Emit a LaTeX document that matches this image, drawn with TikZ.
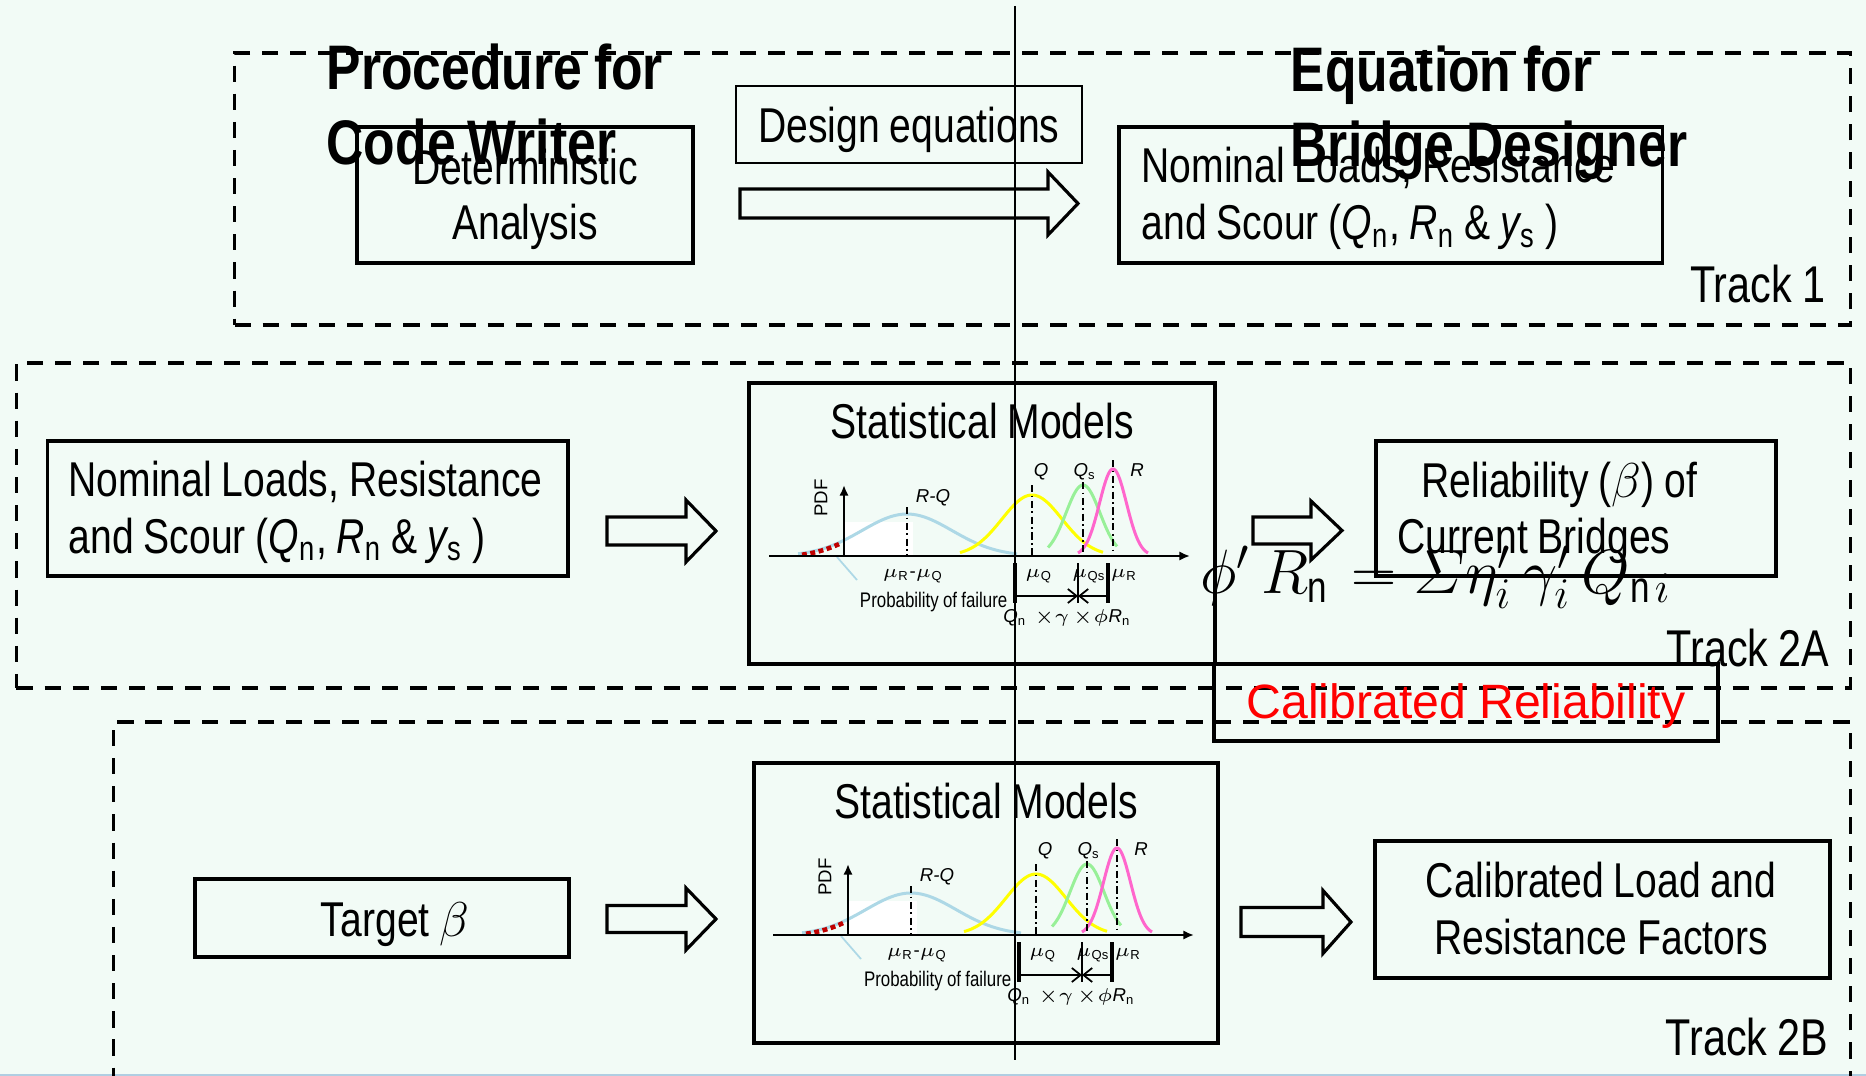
\RequirePackage{fix-cm}
\documentclass[tikz,border=0pt]{standalone}
\usepackage{amsmath}
\usepackage{fontspec}
\setmainfont{Liberation Sans}[FakeStretch=0.8, WordSpace=0.9]
\newfontfamily\widefont{Liberation Sans}
\newfontfamily\titlefont{Liberation Sans}[FakeStretch=0.82, WordSpace=0.85]
\usetikzlibrary{arrows.meta}
\definecolor{bg}{RGB}{242,251,246}
\definecolor{curveblue}{RGB}{173,216,230}
\definecolor{curveyellow}{RGB}{255,255,0}
\definecolor{curvegreen}{RGB}{152,240,152}
\definecolor{curvepink}{RGB}{255,102,204}
\definecolor{faildark}{RGB}{192,0,0}
\definecolor{edgeblue}{RGB}{176,206,226}
\newcommand{\mainsize}{\fontsize{13.9}{15.9}\selectfont}
\newcommand{\titlesize}{\titlefont\bfseries\fontsize{17.9}{21}\selectfont}
\newcommand{\tracksize}{\fontsize{14.7}{16}\selectfont}
\newcommand{\glabelsize}{\widefont\fontsize{5.3}{6}\selectfont}
\newcommand{\blockarrow}[6]{%
  \draw[blockarr] ({#1},{#4-#5}) -- ({#2},{#4-#5}) -- ({#2},{#4-#6}) -- ({#3},{#4})
    -- ({#2},{#4+#6}) -- ({#2},{#4+#5}) -- ({#1},{#4+#5}) -- cycle;}
\newcommand{\pdfgraph}[3]{%
\begin{scope}[shift={(#1,#2)}]
  \fill[white] (0,-34) rectangle (69,0);
  \draw[curveblue, curveline, domain=-46:173] plot (\x, {-42*exp(-0.5*((\x-63)/45)^2)});
  \draw[faildark, line width=1.3pt, dash pattern=on 1.4pt off 1pt, domain=-42:-4, samples=15]
     plot (\x, {1.5-42*exp(-0.5*((\x-63)/45)^2)});
  \draw[curveblue, line width=0.5pt] (-7,1) -- (13,24);
  \draw[ddot] (63,-49) -- (63,0);
  \draw[curveyellow, curveline, domain=116:259] plot (\x, {-61*exp(-0.5*((\x-188)/30)^2)});
  \draw[curvegreen, curveline, domain=204:273] plot (\x, {-71*exp(-0.5*((\x-239)/17)^2)});
  \draw[curvepink, curveline, domain=234:304] plot (\x, {-87*exp(-0.5*((\x-269)/13.5)^2)});
  \draw[ddot] (188,-71) -- (188,0);
  \draw[ddot] (239,-74) -- (239,0);
  \draw[ddot] (269,-96) -- (269,0);
  \draw[line width=0.6pt, -{Latex[length=3pt,width=2.6pt]}] (-75,0) -- (346,0);
  \draw[line width=0.6pt, -{Latex[length=3pt,width=2.6pt]}] (0,0) -- (0,-71);
  \node[glabel, rotate=90] (#3pdf) at (-23,-58) {PDF};
  \node[glabel, anchor=base] (#3rq) at (89,-54) {\itshape R-Q};
  \node[glabel, anchor=base] (#3q) at (197,-80) {\itshape Q};
  \node[glabel, anchor=base] (#3qs) at (241,-80) {{\itshape Q}\textsubscript{s}};
  \node[glabel, anchor=base] (#3r) at (293,-80) {\itshape R};
  \node[glabel, anchor=base] (#3mrq) at (69,21) {$\mu$\textsubscript{R}-$\mu$\textsubscript{Q}};
  \node[glabel, anchor=base] (#3mq) at (195,21) {$\mu$\textsubscript{Q}};
  \node[glabel, anchor=base] (#3mqs) at (245,21) {$\mu$\textsubscript{Qs}};
  \node[glabel, anchor=base] (#3mr) at (280,21) {$\mu$\textsubscript{R}};
  \node[inner sep=0, anchor=base east, font=\fontsize{6}{7}\selectfont] (#3pf) at (164,51) {Probability of failure};
  \draw[line width=0.9pt] (171,7) -- (171,47);
  \draw[line width=0.9pt] (264,7) -- (264,47);
  \draw[line width=0.4pt] (234,7) -- (234,47);
  \draw[line width=0.5pt, -{Straight Barb[length=2.5pt,width=4pt]}] (171,40) -- (234,40);
  \draw[line width=0.5pt, -{Straight Barb[length=2.5pt,width=4pt]}] (264,40) -- (234,40);
  \node[glabel, anchor=base] (#3qn) at (171,66) {{\itshape Q}\textsubscript{n}};
  \node[glabel, anchor=base] (#3g) at (208,66) {$\times\gamma$};
  \node[glabel, anchor=base] (#3pr) at (258,66) {$\times\phi${\itshape R}\textsubscript{n}};
\end{scope}}
\newcommand{\scourline}{and Scour ({\itshape Q}\textsubscript{n}, {\itshape R}\textsubscript{n} \& {\itshape y}\textsubscript{s} )}
\begin{document}
\begin{tikzpicture}[x=0.01cm, y=-0.01cm,
  trackbox/.style={draw, line width=1pt, dash pattern=on 4.6pt off 3.4pt, inner sep=0pt},
  box/.style={draw, line width=0.95pt, inner sep=0pt},
  thinbox/.style={draw, line width=0.55pt, inner sep=0pt},
  txt/.style={inner sep=0pt, font=\mainsize},
  titletext/.style={inner sep=0pt, font=\titlesize},
  tracklabel/.style={inner sep=0pt, font=\tracksize},
  blockarr/.style={draw, line width=0.9pt, line join=miter},
  curveline/.style={line width=0.85pt, samples=60, smooth},
  ddot/.style={line width=0.55pt, dash pattern=on 2pt off 1pt on 0.5pt off 1pt},
  glabel/.style={inner sep=0pt, font=\glabelsize}]
\clip (0,0) rectangle (1866,1076);
\fill[bg] (0,0) rectangle (1866,1076);
\coordinate (edgeL) at (0,1075);
\coordinate (edgeR) at (1866,1075);
\draw[edgeblue, line width=0.6pt] (edgeL) -- (edgeR);

% track frames
\node[trackbox, minimum width=16.15cm, minimum height=2.72cm] (track1) at (1042.5,189) {};
\node[trackbox, minimum width=18.33cm, minimum height=3.25cm] (track2a) at (933.5,525.5) {};
\node[trackbox, minimum width=17.36cm, minimum height=4.0cm] (track2b) at (982,922) {};

% Track 1
\node[box, minimum width=3.36cm, minimum height=1.36cm] (det) at (525,195) {};
\node[txt, anchor=base] (detA) at (525,185) {Deterministic};
\node[txt, anchor=base] (detB) at (525,240) {Analysis};
\node[thinbox, minimum width=3.46cm, minimum height=0.77cm] (design) at (909,124.5) {};
\node[txt, anchor=base] (designT) at (909,143) {Design equations};
\node[box, minimum width=5.43cm, minimum height=1.36cm] (nom1) at (1390.5,195) {};
\node[txt, anchor=base west] (nom1A) at (1141,183) {Nominal Loads, Resistance};
\node[txt, anchor=base west] (nom1B) at (1141,240) {\scourline};
\blockarrow{740}{1048}{1078}{203.5}{14.5}{31.5}
\node[tracklabel, anchor=base east] (lab1) at (1826,303) {Track 1};

% Track 2A
\node[box, minimum width=5.205cm, minimum height=1.35cm] (nom2) at (307.75,508.5) {};
\node[txt, anchor=base west] (nom2A) at (68,496) {Nominal Loads, Resistance};
\node[txt, anchor=base west] (nom2B) at (68,553) {\scourline};
\blockarrow{607}{686}{716}{531}{14}{31}
\node[box, minimum width=4.66cm, minimum height=2.81cm] (stats1) at (982,523.5) {};
\node[txt, anchor=base] (stats1title) at (982,439) {Statistical Models};
\pdfgraph{844}{556}{ga}
\blockarrow{1253}{1311}{1342}{530.5}{13.5}{29.5}
\node[box, minimum width=4.0cm, minimum height=1.35cm] (rel) at (1576,508.5) {};
\node[txt, anchor=base west] (relA) at (1421,497) {Reliability ($\beta$) of};
\node[txt, anchor=base west] (relB) at (1397,553) {Current Bridges};
\node[inner sep=0pt, anchor=base west, font=\fontsize{17.8}{19}\selectfont] (eq) at (1200,593)
  {$\phi'\, R_{\mathrm{n}} = \varSigma \eta_i'\, \gamma_i'\, Q_{\mathrm{n}i}$};
\node[box, minimum width=5.04cm, minimum height=0.77cm] (calrel) at (1466,702.5) {};
\node[inner sep=0pt, anchor=base, font=\widefont\fontsize{13.7}{15}\selectfont, text=red] (calrelT) at (1466,718) {Calibrated Reliability};
\node[tracklabel, anchor=base east] (lab2a) at (1830,666) {Track 2A};

% Track 2B
\node[box, minimum width=3.74cm, minimum height=0.78cm] (target) at (382,918) {};
\node[txt, anchor=base] (targetT) at (395,936) {Target $\beta$};
\blockarrow{607}{686}{716}{919}{13.5}{31}
\node[box, minimum width=4.64cm, minimum height=2.80cm] (stats2) at (986,903) {};
\node[txt, anchor=base] (stats2title) at (986,818) {Statistical Models};
\pdfgraph{848}{935}{gb}
\blockarrow{1241}{1323}{1351}{922}{14.5}{31.5}
\node[box, minimum width=4.55cm, minimum height=1.37cm] (callf) at (1602.5,909.5) {};
\node[txt, anchor=base] (callfA) at (1601,897) {Calibrated Load and};
\node[txt, anchor=base] (callfB) at (1601,954) {Resistance Factors};
\node[tracklabel, anchor=base east] (lab2b) at (1829,1055) {Track 2B};

% headings
\node[titletext, anchor=base west] (title1a) at (326,90) {Procedure for};
\node[titletext, anchor=base west] (title1b) at (326,165) {Code Writer};
\node[titletext, anchor=base west] (title2a) at (1290,92) {Equation for};
\node[titletext, anchor=base west] (title2b) at (1290,167) {Bridge Designer};

% divider
\coordinate (vtop) at (1015,6);
\coordinate (vbot) at (1015,1060);
\draw[line width=0.55pt] (vtop) -- (vbot);
\end{tikzpicture}
\end{document}
